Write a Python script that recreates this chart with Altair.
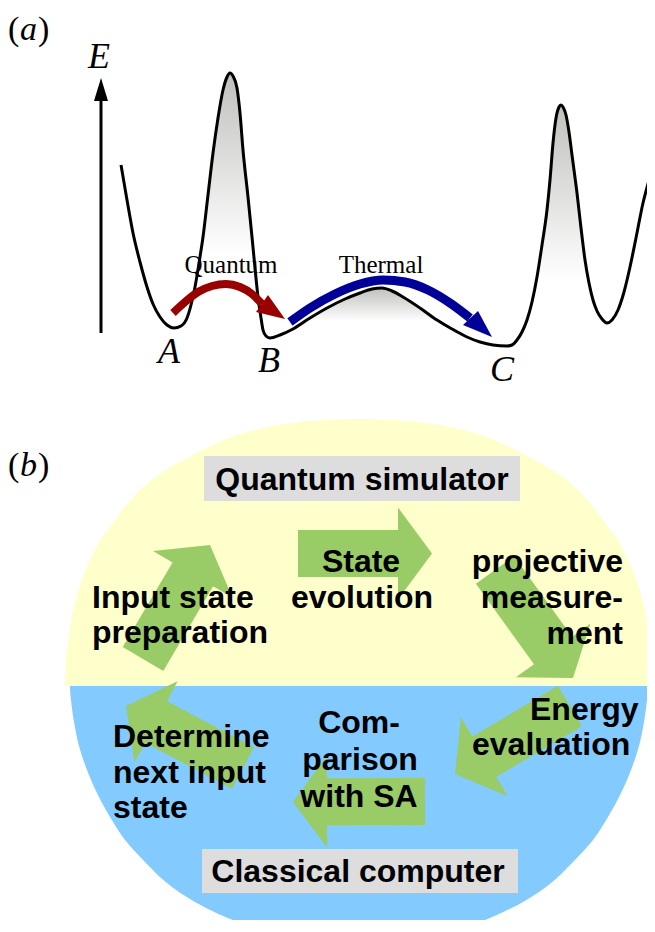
import altair as alt
import numpy as np
import pandas as pd

# ---------------- panel (a): energy landscape ----------------
CURVE_X = [121, 127, 133, 140, 147, 153, 160, 167, 174, 181, 187, 191, 195, 199, 203, 208, 213, 218,
           223, 227, 230, 233, 237, 240, 243, 248, 252, 255, 258, 261, 263, 266, 270, 280, 293, 310,
           327, 345, 360, 372, 382, 392, 403, 420, 437, 452, 467, 480, 493, 507, 512, 517, 522, 527,
           532, 537, 542, 547, 550, 553, 556, 559, 561, 563, 566, 569, 572, 577, 581, 585, 589, 593,
           597, 602, 607, 612, 618, 624, 630, 636, 643, 649, 654]
CURVE_Y = [165, 200, 233, 262, 287, 304, 317, 325, 328, 326, 318, 305, 287, 263, 237, 195, 153, 118,
           90, 77, 73, 76, 88, 113, 150, 197, 237, 268, 297, 318, 330, 336, 338, 335, 329, 318,
           308, 299, 293, 289, 288, 291, 297, 308, 320, 329, 337, 342, 345, 346, 345, 340, 332, 320,
           302, 277, 245, 210, 180, 143, 118, 107, 105, 107, 115, 132, 155, 193, 228, 260, 283, 300,
           311, 319, 323, 320, 310, 292, 267, 238, 203, 180, 162]

# shaded regions: x-range along the curve, lower edge, where the gradient reaches white
SHADE_X0 = [195, 293, 527]
SHADE_X1 = [258, 480, 593]
SHADE_BOTTOM = [310, 342, 300]
SHADE_WHITE_AT = [0.77, 0.62, 0.82]

QUANTUM_X = [173, 185, 198, 212, 226, 240, 252, 262]
QUANTUM_Y = [313, 302, 292, 286, 284, 287, 294, 304]
QUANTUM_HEAD_X = [285, 256, 268]
QUANTUM_HEAD_Y = [319, 312, 295]

THERMAL_X = [290, 310, 335, 360, 383, 405, 428, 450, 470]
THERMAL_Y = [322, 308, 294, 284, 280, 282, 290, 303, 318]
THERMAL_HEAD_X = [492, 463, 478]
THERMAL_HEAD_Y = [337, 325, 311]

AXIS_X = [101, 101]
AXIS_Y = [333, 98]
AXIS_HEAD_X = [101, 94, 108]
AXIS_HEAD_Y = [78, 101, 101]

PANEL_ITALIC = ["a", "b"]
PANEL_ITALIC_X = [20, 20]
PANEL_ITALIC_Y = [40, 476]
PAREN_TEXT = ["(", ")", "(", ")"]
PAREN_X = [8, 38, 8, 38]
PAREN_Y = [40, 40, 476, 476]
ITALIC_TEXT = ["E", "A", "B", "C"]
ITALIC_X = [88, 158, 258, 490]
ITALIC_Y = [68, 363, 372, 381]
PROCESS_TEXT = ["Quantum", "Thermal"]
PROCESS_X = [231, 381]
PROCESS_Y = [273, 273]

# ---------------- panel (b): hybrid loop ----------------
TOP_X = [65, 66, 69, 73, 80, 89, 99, 110, 124, 140, 158, 176, 193, 215, 240, 268, 298, 330, 359,
         390, 420, 450, 478, 503, 525, 542, 560, 578, 594, 608, 619, 629, 638, 645, 649, 652, 653]
TOP_Y = [686, 660, 635, 610, 585, 562, 542, 527, 508, 490, 475, 464, 455, 444, 434, 427, 422, 420, 419,
         420, 422, 427, 434, 444, 455, 464, 475, 490, 508, 527, 542, 562, 585, 610, 635, 660, 686]
BOTTOM_X = [70, 71, 74, 79, 87, 97, 110, 125, 145, 167, 195, 233, 270, 310, 359,
            410, 450, 485, 523, 551, 573, 593, 608, 621, 631, 639, 644, 647, 648]
BOTTOM_Y = [686, 700, 722, 746, 770, 793, 817, 840, 862, 883, 902, 920, 930, 936, 938,
            936, 930, 920, 902, 883, 862, 840, 817, 793, 770, 746, 722, 700, 686]

BOX_X0 = [204, 202]
BOX_X1 = [520, 518]
BOX_Y0 = [456, 849]
BOX_Y1 = [501, 893]

# block arrows: tail centre and tip
ARROW_TAIL_X = [143, 298, 495, 570, 425, 243]
ARROW_TAIL_Y = [659, 553.5, 570, 706, 801.5, 768]
ARROW_TIP_X = [210, 432, 573, 455, 293, 126]
ARROW_TIP_Y = [545, 553.5, 678, 774, 802, 706]
SHAFT_HALF = 23.5
HEAD_HALF = 46
HEAD_LEN = 34

LABEL_TEXT = ["Quantum simulator", "State", "evolution", "Com-", "parison", "with SA",
              "Classical computer",
              "Input state", "preparation", "Energy", "evaluation", "Determine", "next input", "state",
              "projective", "measure-", "ment"]
LABEL_X = [362, 361, 362, 359, 360, 359, 358,
           92, 92, 530, 472, 113, 113, 113,
           623, 623, 623]
LABEL_Y = [490, 572, 608, 733, 770, 807, 882,
           608, 643, 720, 755, 747, 783, 818,
           572, 608, 644]
LABEL_ALIGN = ["center"] * 7 + ["left"] * 7 + ["right"] * 3

# ---------------- styles ----------------
YELLOW = "#ffffcc"
BLUE = "#83caff"
GREEN = "#99cc66"
GRAY = "#dddddd"
SHADE = "#bfc1bd"
RED = "#990000"
NAVY = "#000099"
SERIF = "Liberation Serif"
SANS = "Liberation Sans"

# page has an 8px margin: plot area covers picture pixels 8..647 x 8..920
W, H = 639, 912
XS = alt.Scale(domain=[8, 647], nice=False, zero=False)
YS = alt.Scale(domain=[8, 920], nice=False, zero=False, reverse=True)
X = alt.X("x:Q", scale=XS, axis=None)
Y = alt.Y("y:Q", scale=YS, axis=None)


def pts(xs, ys, pid=0):
    return pd.DataFrame({"x": xs, "y": ys, "i": range(len(xs)), "id": pid})


def polygon(df, color, interp="linear"):
    return alt.Chart(df).mark_line(fill=color, stroke=color, strokeWidth=0, strokeOpacity=0,
                                   interpolate=interp).encode(
        x=X, y=Y, order=alt.Order("i:Q"), detail="id:N")


def texts(xs, ys, ts, **style):
    df = pd.DataFrame({"x": xs, "y": ys, "t": ts})
    return alt.Chart(df).mark_text(baseline="alphabetic", color="black", **style).encode(
        x=X, y=Y, text="t:N")


layers = []

# ellipse halves
layers.append(polygon(pts(TOP_X, TOP_Y), YELLOW, "cardinal"))
layers.append(polygon(pts(BOTTOM_X, BOTTOM_Y), BLUE, "cardinal"))

# gray label boxes
boxes = pd.DataFrame({"x0": BOX_X0, "x1": BOX_X1, "y0": BOX_Y0, "y1": BOX_Y1})
layers.append(alt.Chart(boxes).mark_rect(color=GRAY, opacity=1).encode(
    x=alt.X("x0:Q", scale=XS, axis=None), x2="x1:Q",
    y=alt.Y("y0:Q", scale=YS, axis=None), y2="y1:Q"))

# green block arrows
arrow_frames = []
for k in range(len(ARROW_TAIL_X)):
    tail = np.array([ARROW_TAIL_X[k], ARROW_TAIL_Y[k]], float)
    tip = np.array([ARROW_TIP_X[k], ARROW_TIP_Y[k]], float)
    d = (tip - tail) / np.linalg.norm(tip - tail)
    n = np.array([-d[1], d[0]])
    base = tip - HEAD_LEN * d
    verts = [tail + SHAFT_HALF * n, base + SHAFT_HALF * n, base + HEAD_HALF * n, tip,
             base - HEAD_HALF * n, base - SHAFT_HALF * n, tail - SHAFT_HALF * n]
    arrow_frames.append(pts([v[0] for v in verts], [v[1] for v in verts], k))
layers.append(polygon(pd.concat(arrow_frames, ignore_index=True), GREEN))

# shaded gradients in panel (a)
curve = pts(CURVE_X, CURVE_Y)
for k in range(len(SHADE_X0)):
    sub = curve[(curve.x >= SHADE_X0[k]) & (curve.x <= SHADE_X1[k])].copy()
    sub["y2"] = SHADE_BOTTOM[k]
    grad = alt.Gradient(gradient="linear",
                        stops=[alt.GradientStop(color=SHADE, offset=0),
                               alt.GradientStop(color="#ffffff", offset=SHADE_WHITE_AT[k])],
                        x1=0, x2=0, y1=0, y2=1)
    layers.append(alt.Chart(sub).mark_area(color=grad, opacity=1, interpolate="monotone").encode(
        x=X, y=Y, y2="y2:Q"))

# energy curve
layers.append(alt.Chart(curve).mark_line(color="black", strokeWidth=3, interpolate="monotone").encode(
    x=X, y=Y, order=alt.Order("i:Q")))

# E axis
layers.append(alt.Chart(pts(AXIS_X, AXIS_Y)).mark_line(color="black", strokeWidth=3).encode(
    x=X, y=Y, order=alt.Order("i:Q")))
layers.append(polygon(pts(AXIS_HEAD_X, AXIS_HEAD_Y), "black"))

# quantum / thermal arrows
layers.append(alt.Chart(pts(QUANTUM_X, QUANTUM_Y)).mark_line(
    color=RED, strokeWidth=8, interpolate="monotone", strokeCap="butt").encode(
    x=X, y=Y, order=alt.Order("i:Q")))
layers.append(polygon(pts(QUANTUM_HEAD_X, QUANTUM_HEAD_Y), RED))
layers.append(alt.Chart(pts(THERMAL_X, THERMAL_Y)).mark_line(
    color=NAVY, strokeWidth=9, interpolate="monotone", strokeCap="butt").encode(
    x=X, y=Y, order=alt.Order("i:Q")))
layers.append(polygon(pts(THERMAL_HEAD_X, THERMAL_HEAD_Y), NAVY))

# serif labels
layers.append(texts(PANEL_ITALIC_X, PANEL_ITALIC_Y, PANEL_ITALIC, font=SERIF, fontSize=34,
                    fontStyle="italic", align="left"))
layers.append(texts(PAREN_X, PAREN_Y, PAREN_TEXT, font=SERIF, fontSize=34, align="left"))
layers.append(texts(ITALIC_X, ITALIC_Y, ITALIC_TEXT, font=SERIF, fontSize=36,
                    fontStyle="italic", align="left"))
layers.append(texts(PROCESS_X, PROCESS_Y, PROCESS_TEXT, font=SERIF, fontSize=25, align="center"))

# bold sans labels of panel (b)
for al in ["left", "center", "right"]:
    sel = [k for k in range(len(LABEL_TEXT)) if LABEL_ALIGN[k] == al]
    layers.append(texts([LABEL_X[k] for k in sel], [LABEL_Y[k] for k in sel],
                        [LABEL_TEXT[k] for k in sel],
                        font=SANS, fontSize=32, fontWeight="bold", align=al))

chart = alt.layer(*layers).properties(
    width=W, height=H, padding=0, autosize=alt.AutoSizeParams(type="none")
).configure_view(stroke=None)

chart.save("out.html", embed_options={"renderer": "svg", "actions": False})
